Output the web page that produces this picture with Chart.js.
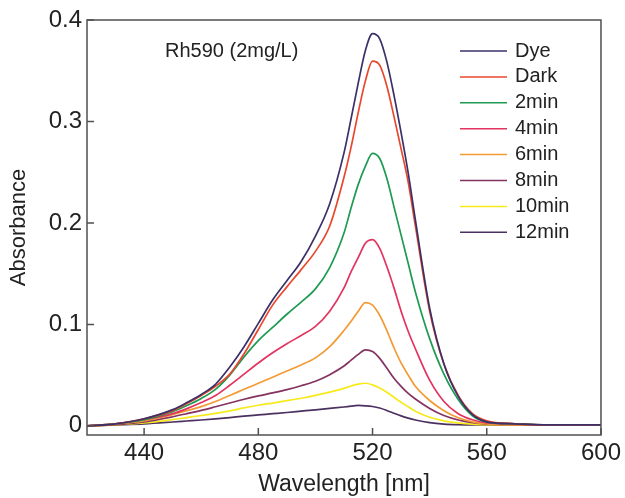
<!DOCTYPE html>
<html lang="en">
<head>
<meta charset="UTF-8">
<title>Rh590 absorbance</title>
<style>
  html, body { margin: 0; padding: 0; background: #fff; }
  #wrap { width: 625px; height: 498px; }
</style>
</head>
<body>
<div id="wrap"><canvas id="spectra"></canvas></div>
<script src="https://cdn.jsdelivr.net/npm/chart.js@4/dist/chart.umd.min.js"></script>
<script>
// wavelength grid (nm), denser around the main band
const wavelengths = [420, 430, 440, 450, 455, 460, 465, 470, 475, 480, 485, 490, 495, 500, 505, 510, 512.5, 515, 517.5, 520, 522.5, 525, 527.5, 530, 532.5, 535, 540, 545, 550, 555, 560, 570, 580, 590, 600];

// absorbance for each sample
const dye   = [0, 0.002, 0.007, 0.016, 0.023, 0.031, 0.041, 0.058, 0.078, 0.101, 0.124, 0.143, 0.162, 0.187, 0.219, 0.269, 0.303, 0.338, 0.370, 0.3865, 0.3815, 0.359, 0.326, 0.289, 0.249, 0.203, 0.116, 0.061, 0.029, 0.011, 0.004, 0.002, 0.001, 0.001, 0.001];
const dark  = [0, 0.002, 0.007, 0.015, 0.022, 0.030, 0.039, 0.051, 0.071, 0.095, 0.119, 0.137, 0.154, 0.172, 0.197, 0.245, 0.275, 0.309, 0.340, 0.3595, 0.3555, 0.335, 0.305, 0.273, 0.240, 0.197, 0.113, 0.061, 0.030, 0.012, 0.005, 0.002, 0.001, 0.001, 0.001];
const min2  = [0, 0.002, 0.006, 0.014, 0.020, 0.027, 0.036, 0.050, 0.068, 0.084, 0.097, 0.110, 0.122, 0.135, 0.156, 0.190, 0.215, 0.238, 0.256, 0.2685, 0.2635, 0.244, 0.216, 0.188, 0.160, 0.132, 0.086, 0.051, 0.026, 0.010, 0.004, 0.002, 0.001, 0.001, 0.001];
const min4  = [0, 0.002, 0.006, 0.012, 0.017, 0.023, 0.030, 0.040, 0.051, 0.062, 0.072, 0.081, 0.089, 0.098, 0.113, 0.136, 0.152, 0.166, 0.180, 0.1835, 0.175, 0.157, 0.136, 0.113, 0.093, 0.076, 0.045, 0.024, 0.012, 0.006, 0.003, 0.002, 0.001, 0.001, 0.001];
const min6  = [0, 0.002, 0.005, 0.011, 0.015, 0.019, 0.024, 0.030, 0.036, 0.042, 0.048, 0.054, 0.060, 0.067, 0.078, 0.094, 0.103, 0.113, 0.1215, 0.119, 0.109, 0.094, 0.077, 0.062, 0.050, 0.039, 0.025, 0.015, 0.008, 0.004, 0.002, 0.001, 0.001, 0.001, 0.001];
const min8  = [0, 0.0012, 0.004, 0.009, 0.012, 0.0152, 0.0188, 0.0225, 0.0262, 0.0295, 0.0325, 0.0357, 0.0395, 0.044, 0.0505, 0.059, 0.0648, 0.0705, 0.0748, 0.0732, 0.0665, 0.057, 0.047, 0.039, 0.032, 0.0265, 0.0172, 0.0102, 0.0058, 0.0032, 0.0018, 0.001, 0.001, 0.001, 0.001];
const min10 = [0, 0.001, 0.003, 0.0062, 0.0082, 0.0102, 0.0123, 0.0148, 0.0178, 0.0203, 0.0225, 0.0248, 0.0272, 0.0300, 0.0333, 0.0370, 0.0393, 0.0412, 0.0420, 0.0404, 0.0373, 0.0332, 0.0282, 0.0232, 0.0188, 0.0145, 0.0085, 0.0050, 0.0030, 0.0018, 0.0012, 0.001, 0.001, 0.001, 0.001];
const min12 = [0, 0.001, 0.002, 0.0038, 0.0048, 0.0058, 0.0069, 0.0082, 0.0096, 0.0108, 0.0120, 0.0132, 0.0145, 0.0158, 0.0172, 0.0186, 0.0194, 0.0201, 0.0198, 0.0191, 0.0176, 0.0152, 0.0124, 0.0098, 0.0076, 0.0058, 0.0032, 0.0018, 0.0012, 0.001, 0.001, 0.001, 0.001, 0.001, 0.001];

const seriesNames = ['Dye', 'Dark', '2min', '4min', '6min', '8min', '10min', '12min'];
const seriesValues = [dye, dark, min2, min4, min6, min8, min10, min12];
const seriesColors = ['#3b3068', '#e8472e', '#1e9a52', '#e2345e', '#f39a35', '#83335f', '#f7ea1c', '#4b3160'];

const xTicks = [440, 480, 520, 560, 600];
const yTicks = [0, 0.1, 0.2, 0.3, 0.4];

const FONT = 'Liberation Sans, Arial, sans-serif';

const datasets = seriesNames.map(function (name, i) {
    return {
        label: name,
        data: wavelengths.map(function (w, j) { return { x: w, y: seriesValues[i][j] }; }),
        borderColor: seriesColors[i],
        backgroundColor: seriesColors[i],
        borderWidth: 1.7,
        pointRadius: 0,
        cubicInterpolationMode: 'monotone',
        fill: false
    };
});

// frame on all four sides, inward ticks, in-plot legend and sample note
const framePlugin = {
    id: 'frame',
    afterDatasetsDraw: function (chart) {
        const c = chart.ctx;
        const a = chart.chartArea;
        const xs = chart.scales.x;
        const ys = chart.scales.y;
        c.save();
        c.strokeStyle = '#505050';
        c.lineWidth = 1.5;
        c.strokeRect(a.left, a.top, a.right - a.left, a.bottom - a.top);

        c.beginPath();
        xTicks.forEach(function (t) {
            const px = xs.getPixelForValue(t);
            c.moveTo(px, a.bottom);
            c.lineTo(px, a.bottom - 7);
        });
        yTicks.forEach(function (t) {
            const py = ys.getPixelForValue(t);
            c.moveTo(a.left, py);
            c.lineTo(a.left + 7, py);
        });
        c.stroke();

        // legend
        c.font = '20px ' + FONT;
        c.textBaseline = 'middle';
        c.textAlign = 'left';
        seriesNames.forEach(function (name, i) {
            const y = 51 + i * 25.9;
            c.strokeStyle = seriesColors[i];
            c.lineWidth = 1.5;
            c.beginPath();
            c.moveTo(460, y);
            c.lineTo(507, y);
            c.stroke();
            c.fillStyle = '#222';
            c.fillText(name, 515, y);
        });

        c.fillStyle = '#222';
        c.fillText('Rh590 (2mg/L)', 165, 51);
        c.restore();
    }
};

new Chart(document.getElementById('spectra'), {
    type: 'line',
    data: { datasets: datasets },
    options: {
        responsive: true,
        maintainAspectRatio: false,
        animation: false,
        layout: { padding: { top: 20, right: 22, left: 0, bottom: 0 } },
        plugins: {
            legend: { display: false },
            tooltip: { enabled: false }
        },
        scales: {
            x: {
                type: 'linear',
                min: 420,
                max: 600,
                afterBuildTicks: function (s) { s.ticks = xTicks.map(function (v) { return { value: v }; }); },
                afterFit: function (s) { s.height = 63; },
                grid: { display: false, drawTicks: false },
                border: { display: false },
                ticks: {
                    padding: 4,
                    color: '#222',
                    font: { family: FONT, size: 24 },
                    maxRotation: 0,
                    callback: function (v) { return v; }
                },
                title: {
                    display: true,
                    text: 'Wavelength [nm]',
                    color: '#222',
                    font: { family: FONT, size: 23 },
                    padding: { top: 0, bottom: 0 }
                }
            },
            y: {
                min: -0.009,
                max: 0.4,
                afterBuildTicks: function (s) { s.ticks = yTicks.map(function (v) { return { value: v }; }); },
                afterFit: function (s) { s.width = 87; },
                grid: { display: false, drawTicks: false },
                border: { display: false },
                ticks: {
                    padding: 5,
                    color: '#222',
                    font: { family: FONT, size: 24 },
                    callback: function (v) { return v === 0 ? '0' : v.toFixed(1); }
                },
                title: {
                    display: true,
                    text: 'Absorbance',
                    color: '#222',
                    font: { family: FONT, size: 22 },
                    padding: { top: 6, bottom: 0 }
                }
            }
        }
    },
    plugins: [framePlugin]
});
</script>
</body>
</html>
